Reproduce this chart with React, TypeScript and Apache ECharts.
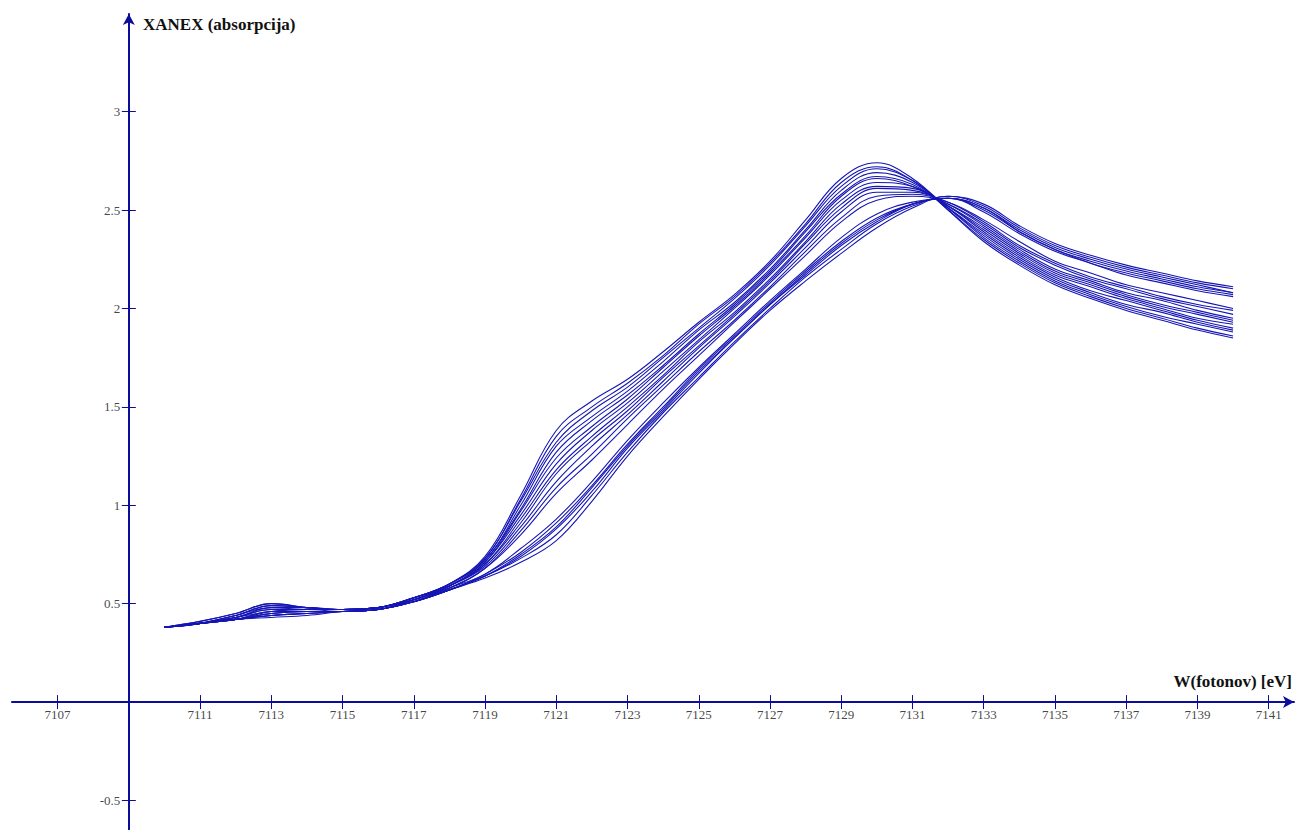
import React, { useEffect, useRef } from "react";
import * as echarts from "echarts";

// photon energies (eV)
const energies = [
  7110, 7111, 7112, 7113, 7114, 7115, 7116, 7117, 7118, 7119, 7120, 7121, 7122, 7123, 7124, 7125,
  7126, 7127, 7128, 7129, 7130, 7131, 7132, 7133, 7134, 7135, 7136, 7137, 7138, 7139, 7140,
];

// XANEX absorption spectra (one array per measurement)
const c01 = [.38,.41,.45,.50,.48,.47,.48,.53,.60,.74,1.05,1.38,1.53,1.64,1.78,1.93,2.07,2.24,2.45,2.66,2.74,2.66,2.50,2.34,2.22,2.12,2.05,1.99,1.94,1.89,1.85];
const c02 = [.38,.41,.45,.50,.48,.47,.48,.53,.60,.73,1.03,1.35,1.50,1.62,1.76,1.92,2.06,2.23,2.43,2.64,2.72,2.65,2.50,2.35,2.23,2.13,2.06,2.00,1.95,1.90,1.86];
const c03 = [.38,.40,.44,.49,.48,.47,.48,.53,.60,.73,1.02,1.32,1.48,1.60,1.75,1.90,2.05,2.22,2.42,2.62,2.71,2.65,2.51,2.36,2.24,2.14,2.07,2.01,1.96,1.92,1.88];
const c04 = [.38,.40,.44,.49,.48,.47,.48,.53,.60,.72,1.00,1.30,1.45,1.58,1.73,1.89,2.03,2.20,2.40,2.60,2.69,2.64,2.51,2.37,2.25,2.15,2.08,2.02,1.98,1.93,1.89];
const c05 = [.38,.40,.44,.48,.48,.47,.48,.53,.59,.72,.98,1.27,1.43,1.56,1.71,1.87,2.02,2.19,2.39,2.58,2.67,2.63,2.51,2.38,2.26,2.16,2.09,2.04,1.99,1.94,1.90];
const c06 = [.38,.40,.43,.48,.47,.47,.48,.53,.59,.71,.97,1.24,1.40,1.54,1.70,1.86,2.01,2.18,2.37,2.57,2.66,2.62,2.52,2.39,2.27,2.17,2.11,2.05,2.00,1.95,1.92];
const c07 = [.38,.40,.43,.47,.47,.47,.48,.52,.59,.71,.95,1.21,1.38,1.52,1.68,1.84,2.00,2.17,2.36,2.55,2.64,2.62,2.52,2.40,2.28,2.18,2.12,2.06,2.01,1.97,1.93];
const c08 = [.38,.40,.43,.47,.47,.47,.48,.52,.59,.70,.93,1.18,1.35,1.50,1.66,1.83,1.98,2.15,2.34,2.53,2.62,2.61,2.52,2.41,2.29,2.19,2.13,2.07,2.02,1.98,1.94];
const c09 = [.38,.40,.43,.46,.47,.47,.48,.52,.59,.70,.91,1.16,1.33,1.48,1.65,1.81,1.97,2.14,2.33,2.51,2.61,2.60,2.53,2.42,2.30,2.20,2.14,2.08,2.04,1.99,1.95];
const c10 = [.38,.40,.42,.46,.47,.46,.47,.52,.59,.69,.89,1.12,1.30,1.46,1.63,1.80,1.96,2.13,2.31,2.49,2.59,2.59,2.53,2.43,2.31,2.22,2.15,2.10,2.05,2.01,1.97];
const c11 = [.38,.40,.42,.46,.46,.46,.47,.52,.58,.68,.87,1.09,1.26,1.44,1.61,1.78,1.94,2.11,2.29,2.46,2.57,2.58,2.54,2.44,2.32,2.23,2.16,2.11,2.06,2.02,1.99];
const c12 = [.38,.40,.42,.45,.46,.46,.47,.52,.58,.68,.85,1.06,1.23,1.41,1.59,1.76,1.93,2.10,2.27,2.44,2.55,2.57,2.54,2.45,2.34,2.24,2.18,2.12,2.08,2.04,2.00];
const c13 = [.38,.40,.42,.45,.46,.46,.47,.51,.58,.65,.78,.93,1.12,1.33,1.52,1.70,1.87,2.04,2.20,2.36,2.48,2.54,2.56,2.49,2.38,2.29,2.23,2.17,2.13,2.09,2.06];
const c14 = [.38,.40,.42,.45,.46,.46,.47,.51,.57,.65,.76,.91,1.10,1.31,1.50,1.69,1.86,2.03,2.19,2.34,2.46,2.53,2.56,2.50,2.39,2.30,2.23,2.18,2.14,2.10,2.07];
const c15 = [.38,.40,.42,.44,.45,.46,.47,.51,.57,.64,.75,.89,1.09,1.30,1.49,1.68,1.85,2.02,2.18,2.33,2.45,2.53,2.56,2.51,2.39,2.30,2.24,2.19,2.15,2.11,2.08];
const c16 = [.38,.40,.42,.44,.45,.46,.47,.51,.57,.64,.74,.88,1.07,1.29,1.48,1.67,1.85,2.02,2.17,2.32,2.44,2.53,2.56,2.51,2.40,2.31,2.25,2.20,2.16,2.12,2.08];
const c17 = [.38,.40,.42,.44,.45,.46,.47,.51,.57,.64,.73,.85,1.05,1.27,1.47,1.65,1.83,2.00,2.16,2.30,2.43,2.52,2.57,2.52,2.41,2.32,2.26,2.21,2.17,2.13,2.10];
const c18 = [.38,.40,.42,.43,.44,.46,.47,.51,.57,.63,.71,.82,1.02,1.25,1.45,1.64,1.82,1.99,2.14,2.28,2.41,2.51,2.57,2.53,2.42,2.33,2.27,2.22,2.18,2.14,2.11];

const curves = [c01, c02, c03, c04, c05, c06, c07, c08, c09, c10, c11, c12, c13, c14, c15, c16, c17, c18];

// axis crossing point (the y axis stands at this energy)
const ORIGIN_E = 7109;
const xTickLabels = [7107, 7111, 7113, 7115, 7117, 7119, 7121, 7123, 7125, 7127, 7129, 7131, 7133, 7135, 7137, 7139, 7141];
const yTickLabels = [-0.5, 0.5, 1, 1.5, 2, 2.5, 3];

const X_TITLE = "W(fotonov) [eV]";
const Y_TITLE = "XANEX (absorpcija)";

const AXIS_COLOR = "#0b0b9c";
const LINE_COLOR = "#1616b4";
const FONT = "'Liberation Serif', 'DejaVu Serif', serif";

export default function App() {
  const ref = useRef<HTMLDivElement>(null);

  useEffect(() => {
    if (!ref.current) return;
    const chart = echarts.init(ref.current, undefined, { renderer: "svg" });
    const xTicks = xTickLabels.map((e) => e - ORIGIN_E);
    const xMin = -3.28;
    const xMax = 32.71;
    const yMin = -0.65;
    const yMax = 3.496;

    const baseX = {
      type: "value" as const,
      min: xMin,
      max: xMax,
      splitLine: { show: false },
      axisLabel: { show: false },
    };
    const baseY = {
      type: "value" as const,
      min: yMin,
      max: yMax,
      splitLine: { show: false },
      axisLabel: { show: false },
    };
    const tickLabelStyle = {
      show: true,
      color: "#111111",
      fontFamily: FONT,
      fontSize: 13,
    };

    chart.setOption({
      animation: false,
      backgroundColor: "#ffffff",
      grid: {
        left: 12,
        right: 2,
        top: 14,
        bottom: 0,
        containLabel: false,
        outerBoundsMode: "none",
      },
      xAxis: [
        {
          ...baseX,
          position: "bottom",
          axisLine: {
            show: true,
            onZero: true,
            symbol: ["none", "arrow"],
            symbolSize: [9, 11],
            lineStyle: { color: AXIS_COLOR, width: 2 },
          },
          axisTick: {
            show: true,
            inside: false,
            length: 7,
            customValues: xTicks,
            lineStyle: { color: AXIS_COLOR, width: 1 },
          },
        },
        {
          ...baseX,
          position: "bottom",
          axisLine: { show: false, onZero: true },
          axisTick: {
            show: true,
            inside: true,
            length: 7,
            customValues: xTicks,
            lineStyle: { color: AXIS_COLOR, width: 1 },
          },
        },
      ],
      yAxis: [
        {
          ...baseY,
          position: "left",
          axisLine: {
            show: true,
            onZero: true,
            symbol: ["none", "arrow"],
            symbolSize: [9, 11],
            lineStyle: { color: AXIS_COLOR, width: 2 },
          },
          axisTick: {
            show: true,
            inside: false,
            length: 7,
            customValues: yTickLabels,
            lineStyle: { color: AXIS_COLOR, width: 1 },
          },
        },
        {
          ...baseY,
          position: "left",
          axisLine: { show: false, onZero: true },
          axisTick: {
            show: true,
            inside: true,
            length: 7,
            customValues: yTickLabels,
            lineStyle: { color: AXIS_COLOR, width: 1 },
          },
        },
      ],
      graphic: [
        {
          type: "text",
          left: 143,
          top: 16,
          style: {
            text: Y_TITLE,
            fill: "#111",
            font: `bold 17px ${FONT}`,
          },
        },
        {
          type: "text",
          right: 4,
          top: 673,
          style: {
            text: X_TITLE,
            fill: "#111",
            font: `bold 17px ${FONT}`,
          },
        },
      ],
      series: [
        ...curves.map((vals, k) => ({
          name: `c${k + 1}`,
          type: "line",
          xAxisIndex: 0,
          yAxisIndex: 0,
          smooth: 0.4,
          symbol: "none",
          lineStyle: { color: LINE_COLOR, width: 1.1 },
          data: energies.map((e, i) => [e - ORIGIN_E, vals[i]]),
        })),
        {
          name: "xTickLabels",
          type: "scatter",
          silent: true,
          symbolSize: 1,
          itemStyle: { color: "rgba(0,0,0,0)" },
          label: {
            ...tickLabelStyle,
            position: "bottom",
            distance: 5,
            formatter: (p: any) => String(Math.round(p.value[0] + ORIGIN_E)),
          },
          labelLayout: { hideOverlap: false },
          data: xTicks.map((t) => [t, 0]),
        },
        {
          name: "yTickLabels",
          type: "scatter",
          silent: true,
          symbolSize: 1,
          itemStyle: { color: "rgba(0,0,0,0)" },
          label: {
            ...tickLabelStyle,
            position: "left",
            distance: 8,
            formatter: (p: any) => String(p.value[1]),
          },
          labelLayout: { hideOverlap: false },
          data: yTickLabels.map((v) => [0, v]),
        },
      ],
    });
    return () => chart.dispose();
  }, []);

  return (
    <div
      ref={ref}
      style={{ position: "fixed", left: 0, top: 0, width: 1296, height: 830 }}
    />
  );
}
